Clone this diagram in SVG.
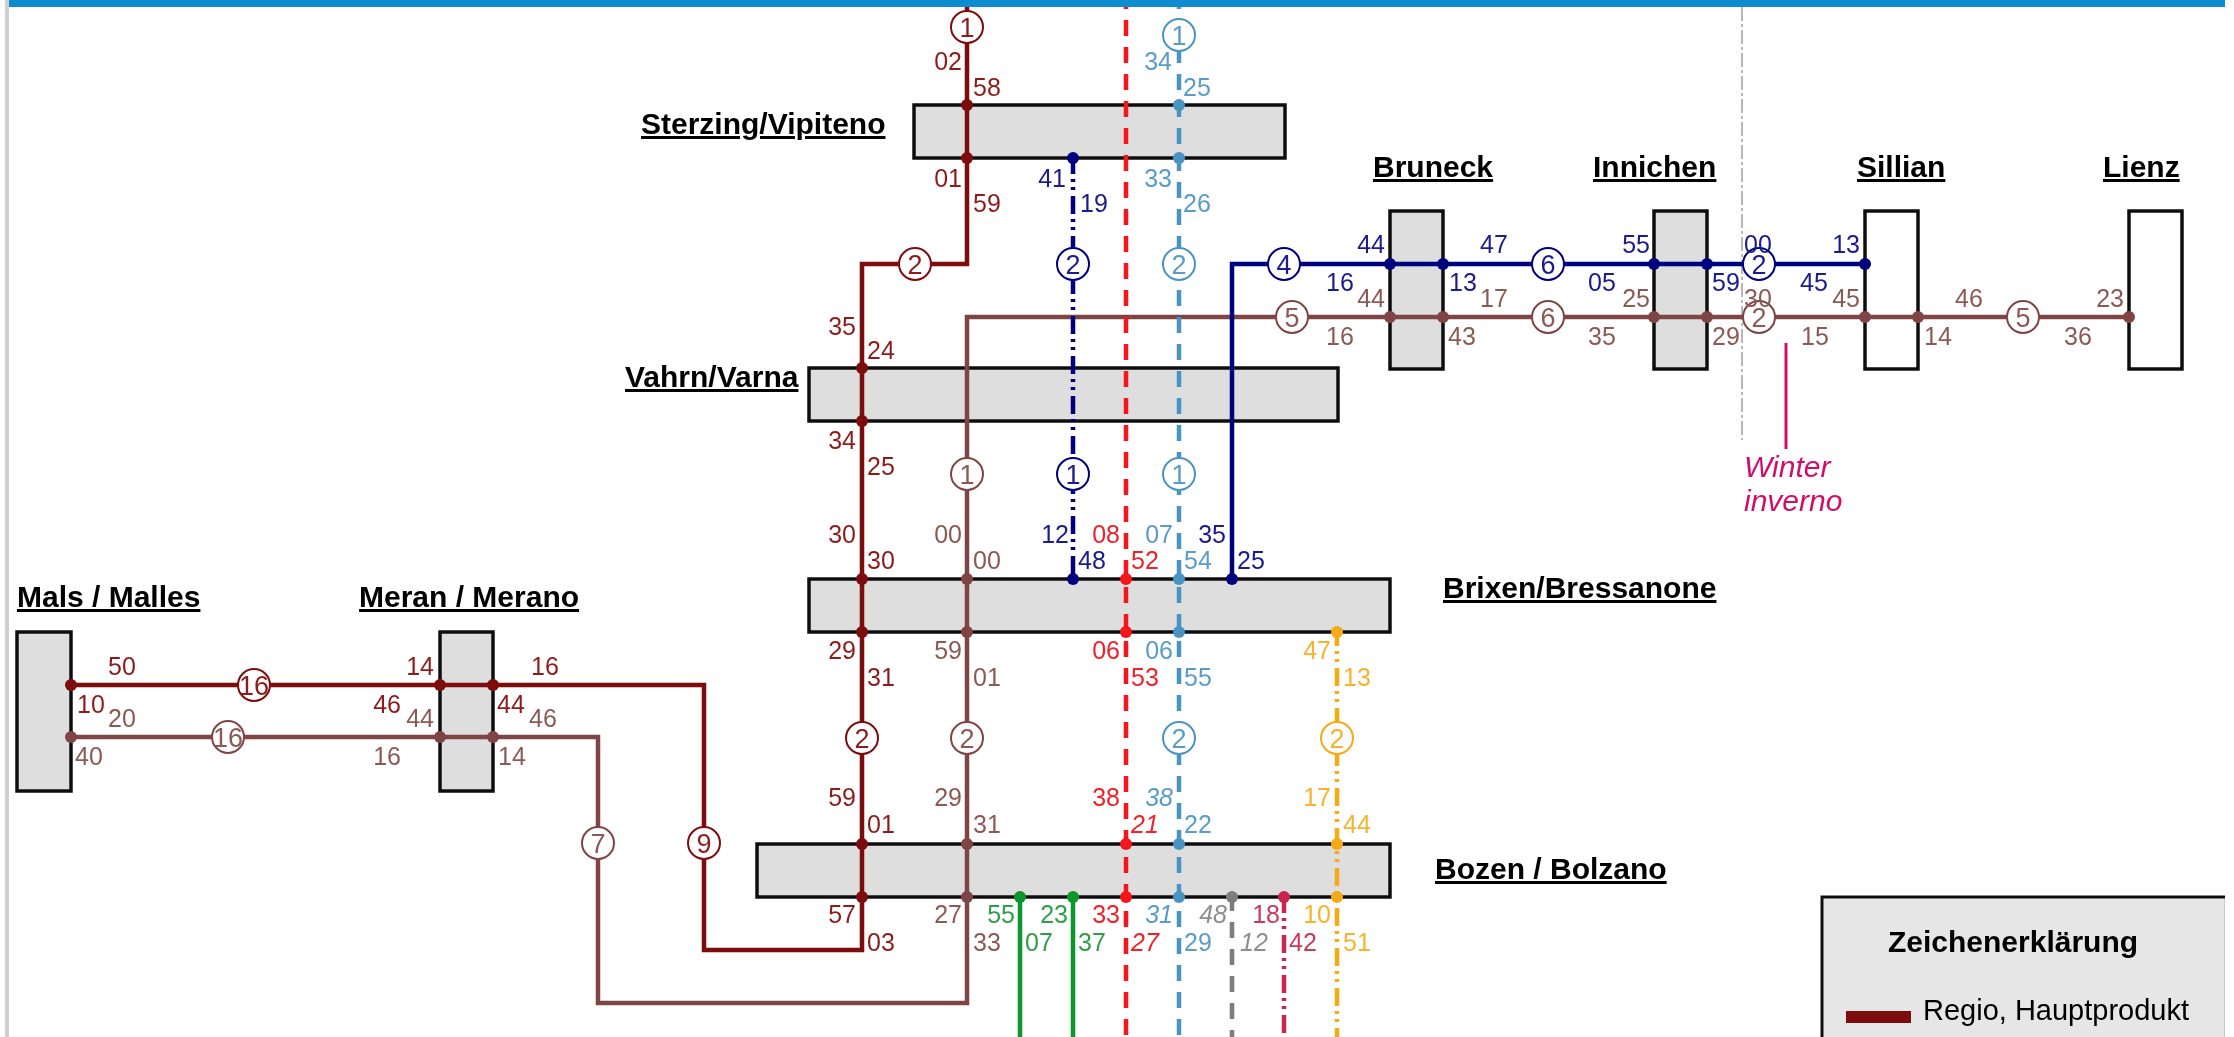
<svg xmlns="http://www.w3.org/2000/svg" width="2234" height="1037" viewBox="0 0 2234 1037">
<style>
text{font-family:"Liberation Sans",Arial,sans-serif}
.st{fill:#dedede;stroke:#111;stroke-width:3.5}
.au{fill:#fff;stroke:#111;stroke-width:3.5}
.nm{font-size:30px;font-weight:bold;fill:#000;text-decoration:underline}
.l{fill:none;stroke-width:4.5}
.n{font-size:25px}
.e{text-anchor:end}
.i{font-style:italic}
.c{fill:#fff;stroke-width:2}
.cn{font-size:27px;text-anchor:middle}
.rd{stroke:#7d0a0a}.brn{stroke:#7f4545}.nv{stroke:#00007f}.re{stroke:#f5121e}.bl{stroke:#4a94c2}.gr{stroke:#0d962d}.ye{stroke:#f5aa14}.gy{stroke:#7d7d7d}.mg{stroke:#c8284f}
.frd{fill:#8c1e1e}.fbrn{fill:#8c5a55}.fnv{fill:#1a1a8c}.fre{fill:#f0202a}.fbl{fill:#5a9cc8}.fgr{fill:#2f9e48}.fye{fill:#f5b32e}.fgy{fill:#8e8e8e}.fmg{fill:#c83a5c}
.dre{fill:#f5121e}.drd{fill:#7d0a0a}.dbrn{fill:#7f4545}.dnv{fill:#00007f}.dbl{fill:#4a94c2}.dgr{fill:#0d962d}.dye{fill:#f5aa14}.dgy{fill:#7d7d7d}.dmg{fill:#c8284f}
.das{stroke-dasharray:16 11}
.ddd{stroke-dasharray:18 5 3 5 3 6}
</style>
<defs><filter id="soft" x="0" y="0" width="100%" height="100%"><feGaussianBlur stdDeviation="0.55"/></filter></defs>
<rect width="2234" height="1037" fill="#fff"/>
<g filter="url(#soft)">
<rect x="5" y="0" width="4" height="1037" fill="#cfcfcf"/>
<rect x="9" y="0" width="2216" height="7" fill="#0a8ccf"/>

<g id="station-mals"><rect class="st" x="17" y="632" width="54" height="159"/><text class="nm" x="17" y="607">Mals / Malles</text></g>
<g id="station-meran"><rect class="st" x="440" y="632" width="53" height="159"/><text class="nm" x="359" y="607">Meran / Merano</text></g>
<g id="station-sterzing"><rect class="st" x="914" y="105" width="371" height="53"/><text class="nm" x="641" y="134">Sterzing/Vipiteno</text></g>
<g id="station-vahrn"><rect class="st" x="809" y="368" width="529" height="53"/><text class="nm" x="625" y="387">Vahrn/Varna</text></g>
<g id="station-brixen"><rect class="st" x="809" y="579" width="581" height="53"/><text class="nm" x="1443" y="598">Brixen/Bressanone</text></g>
<g id="station-bozen"><rect class="st" x="757" y="844" width="633" height="53"/><text class="nm" x="1435" y="879">Bozen / Bolzano</text></g>
<g id="station-bruneck"><rect class="st" x="1390" y="211" width="53" height="158"/><text class="nm" x="1373" y="177">Bruneck</text></g>
<g id="station-innichen"><rect class="st" x="1654" y="211" width="53" height="158"/><text class="nm" x="1593" y="177">Innichen</text></g>
<g id="station-sillian"><rect class="au" x="1865" y="211" width="53" height="158"/><text class="nm" x="1857" y="177">Sillian</text></g>
<g id="station-lienz"><rect class="au" x="2129" y="211" width="53" height="158"/><text class="nm" x="2103" y="177">Lienz</text></g>

<g id="connectors">
<path d="M1742 7V440" fill="none" stroke="#b8b8b8" stroke-width="2" stroke-dasharray="14 3 3 3"/>
<path d="M1786 343V449" fill="none" stroke="#d0106a" stroke-width="3"/>
<path class="l rd" d="M71 685H704V950H862V264H967V7"/>
<path class="l brn" d="M71 737H598V1003H967V317H2129"/>
<path class="l nv" d="M1232 579V264H1865"/>
<path class="l nv ddd" d="M1073 158V579" stroke-dashoffset="2"/>
<path class="l re das" d="M1126 7V1037" stroke-dashoffset="14"/>
<path class="l bl das" d="M1179 7V1037" stroke-dashoffset="14"/>
<path class="l ye ddd" d="M1337 632V1037" stroke-dashoffset="4"/>
<path class="l gr" d="M1020 897V1037M1073 897V1037"/>
<path class="l gy das" d="M1232 897V1037" stroke-dashoffset="2"/>
<path class="l mg ddd" d="M1284 897V1037" stroke-dashoffset="2"/>
</g>

<g id="stops">
<g class="drd"><circle cx="71" cy="685" r="6"/><circle cx="440" cy="685" r="6"/><circle cx="493" cy="685" r="6"/><circle cx="967" cy="105" r="6"/><circle cx="967" cy="158" r="6"/><circle cx="862" cy="368" r="6"/><circle cx="862" cy="421" r="6"/><circle cx="862" cy="579" r="6"/><circle cx="862" cy="632" r="6"/><circle cx="862" cy="844" r="6"/><circle cx="862" cy="897" r="6"/></g>
<g class="dbrn"><circle cx="71" cy="737" r="6"/><circle cx="440" cy="737" r="6"/><circle cx="493" cy="737" r="6"/><circle cx="967" cy="579" r="6"/><circle cx="967" cy="632" r="6"/><circle cx="967" cy="844" r="6"/><circle cx="967" cy="897" r="6"/><circle cx="1390" cy="317" r="6"/><circle cx="1443" cy="317" r="6"/><circle cx="1654" cy="317" r="6"/><circle cx="1707" cy="317" r="6"/><circle cx="1865" cy="317" r="6"/><circle cx="1918" cy="317" r="6"/><circle cx="2129" cy="317" r="6"/></g>
<g class="dnv"><circle cx="1073" cy="158" r="6"/><circle cx="1073" cy="579" r="6"/><circle cx="1232" cy="579" r="6"/><circle cx="1390" cy="264" r="6"/><circle cx="1443" cy="264" r="6"/><circle cx="1654" cy="264" r="6"/><circle cx="1707" cy="264" r="6"/><circle cx="1865" cy="264" r="6"/></g>
<g class="dre"><circle cx="1126" cy="579" r="6"/><circle cx="1126" cy="632" r="6"/><circle cx="1126" cy="844" r="6"/><circle cx="1126" cy="897" r="6"/></g>
<g class="dbl"><circle cx="1179" cy="105" r="6"/><circle cx="1179" cy="158" r="6"/><circle cx="1179" cy="579" r="6"/><circle cx="1179" cy="632" r="6"/><circle cx="1179" cy="844" r="6"/><circle cx="1179" cy="897" r="6"/></g>
<g class="dye"><circle cx="1337" cy="632" r="6"/><circle cx="1337" cy="844" r="6"/><circle cx="1337" cy="897" r="6"/></g>
<circle class="dgr" cx="1020" cy="897" r="6"/><circle class="dgr" cx="1073" cy="897" r="6"/><circle class="dgy" cx="1232" cy="897" r="6"/><circle class="dmg" cx="1284" cy="897" r="6"/>
</g>

<g id="line-numbers">
<g class="rd"><circle class="c" cx="967" cy="27" r="16"/><circle class="c" cx="915" cy="264" r="16"/><circle class="c" cx="862" cy="738" r="16"/><circle class="c" cx="254" cy="685" r="16"/><circle class="c" cx="704" cy="843" r="16"/></g>
<g class="brn"><circle class="c" cx="967" cy="474" r="16"/><circle class="c" cx="967" cy="738" r="16"/><circle class="c" cx="228" cy="737" r="16"/><circle class="c" cx="598" cy="843" r="16"/><circle class="c" cx="1292" cy="317" r="16"/><circle class="c" cx="1548" cy="317" r="16"/><circle class="c" cx="1759" cy="317" r="16"/><circle class="c" cx="2023" cy="317" r="16"/></g>
<g class="nv"><circle class="c" cx="1073" cy="264" r="16"/><circle class="c" cx="1073" cy="474" r="16"/><circle class="c" cx="1284" cy="264" r="16"/><circle class="c" cx="1548" cy="264" r="16"/><circle class="c" cx="1759" cy="264" r="16"/></g>
<g class="bl"><circle class="c" cx="1179" cy="35" r="16"/><circle class="c" cx="1179" cy="264" r="16"/><circle class="c" cx="1179" cy="474" r="16"/><circle class="c" cx="1179" cy="738" r="16"/></g>
<circle class="c ye" cx="1337" cy="738" r="16"/>
<g class="cn frd"><text x="967" y="37">1</text><text x="915" y="274">2</text><text x="862" y="748">2</text><text x="254" y="695">16</text><text x="704" y="853">9</text></g>
<g class="cn fbrn"><text x="967" y="484">1</text><text x="967" y="748">2</text><text x="228" y="747">16</text><text x="598" y="853">7</text><text x="1292" y="327">5</text><text x="1548" y="327">6</text><text x="1759" y="327">2</text><text x="2023" y="327">5</text></g>
<g class="cn fnv"><text x="1073" y="274">2</text><text x="1073" y="484">1</text><text x="1284" y="274">4</text><text x="1548" y="274">6</text><text x="1759" y="274">2</text></g>
<g class="cn fbl"><text x="1179" y="45">1</text><text x="1179" y="274">2</text><text x="1179" y="484">1</text><text x="1179" y="748">2</text></g>
<text class="cn fye" x="1337" y="748">2</text>
</g>

<g id="times" class="n">
<g class="frd">
<text x="108" y="675">50</text><text x="77" y="713">10</text><text class="e" x="434" y="675">14</text><text class="e" x="401" y="713">46</text><text x="531" y="675">16</text><text x="497" y="713">44</text>
<text class="e" x="962" y="70">02</text><text x="973" y="96">58</text><text class="e" x="962" y="187">01</text><text x="973" y="212">59</text>
<text class="e" x="856" y="335">35</text><text x="867" y="359">24</text><text class="e" x="856" y="449">34</text><text x="867" y="475">25</text>
<text class="e" x="856" y="543">30</text><text x="867" y="569">30</text><text class="e" x="856" y="659">29</text><text x="867" y="686">31</text>
<text class="e" x="856" y="806">59</text><text x="867" y="833">01</text><text class="e" x="856" y="923">57</text><text x="867" y="951">03</text>
</g>
<g class="fbrn">
<text x="108" y="727">20</text><text x="75" y="765">40</text><text class="e" x="434" y="727">44</text><text class="e" x="401" y="765">16</text><text x="529" y="727">46</text><text x="498" y="765">14</text>
<text class="e" x="962" y="543">00</text><text x="973" y="569">00</text><text class="e" x="962" y="659">59</text><text x="973" y="686">01</text>
<text class="e" x="962" y="806">29</text><text x="973" y="833">31</text><text class="e" x="962" y="923">27</text><text x="973" y="951">33</text>
<text class="e" x="1385" y="307">44</text><text x="1326" y="345">16</text><text x="1480" y="307">17</text><text x="1448" y="345">43</text><text class="e" x="1650" y="307">25</text><text x="1588" y="345">35</text><text x="1744" y="307">30</text><text x="1712" y="345">29</text><text class="e" x="1860" y="307">45</text><text x="1801" y="345">15</text><text x="1955" y="307">46</text><text x="1924" y="345">14</text><text class="e" x="2124" y="307">23</text><text x="2064" y="345">36</text>
</g>
<g class="fnv">
<text class="e" x="1066" y="187">41</text><text x="1080" y="212">19</text><text class="e" x="1069" y="543">12</text><text x="1078" y="569">48</text><text class="e" x="1226" y="543">35</text><text x="1237" y="569">25</text>
<text class="e" x="1385" y="253">44</text><text x="1326" y="291">16</text><text x="1480" y="253">47</text><text x="1449" y="291">13</text><text class="e" x="1650" y="253">55</text><text x="1588" y="291">05</text><text x="1744" y="253">00</text><text x="1712" y="291">59</text><text class="e" x="1860" y="253">13</text><text x="1800" y="291">45</text>
</g>
<g class="fre">
<text class="e" x="1120" y="543">08</text><text x="1131" y="569">52</text><text class="e" x="1120" y="659">06</text><text x="1131" y="686">53</text><text class="e" x="1120" y="806">38</text><text class="i" x="1131" y="833">21</text><text class="e" x="1120" y="923">33</text><text class="i" x="1131" y="951">27</text>
</g>
<g class="fbl">
<text class="e" x="1172" y="70">34</text><text x="1183" y="96">25</text><text class="e" x="1172" y="187">33</text><text x="1183" y="212">26</text>
<text class="e" x="1173" y="543">07</text><text x="1184" y="569">54</text><text class="e" x="1173" y="659">06</text><text x="1184" y="686">55</text><text class="e i" x="1173" y="806">38</text><text x="1184" y="833">22</text><text class="e i" x="1173" y="923">31</text><text x="1184" y="951">29</text>
</g>
<g class="fye">
<text class="e" x="1331" y="659">47</text><text x="1343" y="686">13</text><text class="e" x="1331" y="806">17</text><text x="1343" y="833">44</text><text class="e" x="1331" y="923">10</text><text x="1343" y="951">51</text>
</g>
<g class="fgr">
<text class="e" x="1015" y="923">55</text><text x="1025" y="951">07</text><text class="e" x="1068" y="923">23</text><text x="1078" y="951">37</text>
</g>
<g class="fgy"><text class="e i" x="1227" y="923">48</text><text class="i" x="1240" y="951">12</text></g>
<g class="fmg"><text class="e" x="1280" y="923">18</text><text x="1289" y="951">42</text></g>
</g>

<g id="note" font-size="30" font-style="italic" fill="#d0106a"><text x="1744" y="477">Winter</text><text x="1744" y="511">inverno</text></g>

<g id="legend">
<rect x="1822" y="897" width="403" height="140" fill="#e6e6e6"/>
<path d="M2225 897V1037" stroke="#aaa" fill="none"/>
<path d="M1822 1037V897H2225" stroke="#111" stroke-width="3" fill="none"/>
<text x="1888" y="952" font-size="30" font-weight="bold">Zeichenerklärung</text>
<rect x="1846" y="1011" width="65" height="12" fill="#7d0a0a"/>
<text x="1923" y="1020" font-size="29">Regio, Hauptprodukt</text>
</g>
</g>
</svg>
